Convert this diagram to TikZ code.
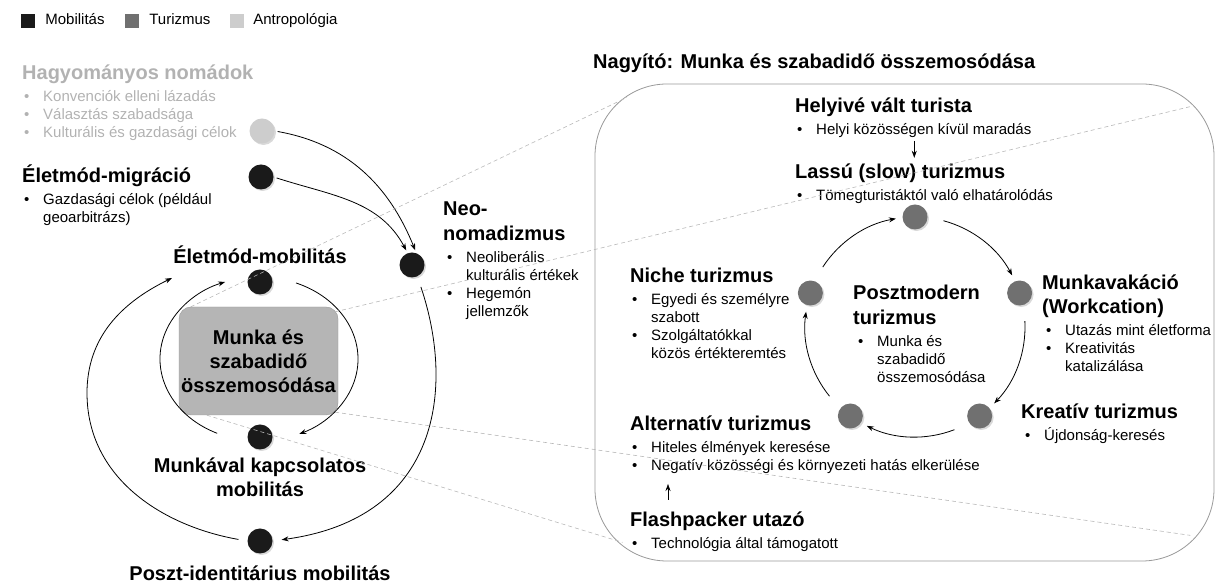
\documentclass[tikz,border=0pt]{standalone}
\usepackage{fontspec}
\setmainfont{Liberation Sans}
\usetikzlibrary{arrows.meta,positioning,shadows}
\definecolor{mobcol}{HTML}{1A1A1A}
\definecolor{turcol}{HTML}{707070}
\definecolor{antcol}{HTML}{CDCDCD}
\definecolor{anttxt}{HTML}{B2B2B2}
\definecolor{boxcol}{HTML}{B5B5B5}
\newcommand{\bul}[1]{\strut\makebox[19pt][l]{\textbullet}#1}
\newcommand{\cnt}[1]{\strut\hspace*{19pt}#1}

\begin{document}
\begin{tikzpicture}[x=1pt, y=1pt, >={Stealth[length=7pt,width=5pt]},
  ttl/.style={font=\bfseries\fontsize{20}{24}\selectfont, inner sep=0pt, anchor=base west, text height=14pt, text depth=4pt},
  lst/.style={font=\fontsize{15}{18}\selectfont, inner sep=0pt, align=left},
  lgd/.style={lst, text height=11pt, text depth=3.5pt},
  lbl/.style={font=\bfseries\fontsize{20}{24}\selectfont, inner sep=0pt, align=center},
  sq/.style={minimum size=14pt, inner sep=0pt},
  blob/.style={circle, minimum size=25pt, inner sep=0pt, drop shadow={shadow xshift=1.5pt, shadow yshift=-1.5pt, opacity=0.3}},
  mob/.style={blob, fill=mobcol},
  tur/.style={blob, fill=turcol},
  ant/.style={blob, fill=antcol},
  flow/.style={->, line width=0.8pt},
  zoomln/.style={draw=black!28, line width=0.6pt, dash pattern=on 4pt off 3pt},
]
  \useasboundingbox (0,0) rectangle (1215,588);

  % legend
  \node[sq, fill=mobcol] (lgm) at (28,567) {};
  \node[lgd, right=10pt of lgm] (lgmt) {Mobilitás};
  \node[sq, fill=turcol, right=20pt of lgmt] (lgt) {};
  \node[lgd, right=10pt of lgt] (lgtt) {Turizmus};
  \node[sq, fill=antcol, right=19pt of lgtt] (lga) {};
  \node[lgd, right=9pt of lga] (lgat) {Antropológia};

  % traditional nomads
  \node[ttl, text=anttxt] (hag) at (22,508) {Hagyományos nomádok};
  \node[lst, text=anttxt, below right=4.4pt and 2pt of hag.south west] (hagl)
    {\bul{Konvenciók elleni lázadás}\\\bul{Választás szabadsága}\\\bul{Kulturális és gazdasági célok}};
  \node[ant] (antd) at (262,457) {};

  % lifestyle migration
  \node[ttl] (mig) at (22,405) {Életmód-migráció};
  \node[lst, below right=4.4pt and 2pt of mig.south west] (migl)
    {\bul{Gazdasági célok (például}\\\cnt{geoarbitrázs)}};
  \node[mob] (migd) at (261,411) {};

  % neo-nomadism
  \node[mob] (neod) at (412,323) {};
  \node[ttl] (neo) at (443,372) {Neo-};
  \node[ttl] (neo2) at ([yshift=-25pt]neo.base west) {nomadizmus};
  \node[lst, below right=4.4pt and 4pt of neo2.south west] (neol)
    {\bul{Neoliberális}\\\cnt{kulturális értékek}\\\bul{Hegemón}\\\cnt{jellemzők}};

  \draw[flow, shorten <=3pt, shorten >=3pt] (antd.east) to[out=-10, in=112] (neod.70);
  \draw[flow, shorten <=3pt, shorten >=3pt] (migd.east) to[out=-18, in=118] (neod.110);

  % mobility circle
  \node[lbl] (emo) at (260,333) {Életmód-mobilitás};
  \node[mob] (emod) at (260,306) {};
  \node[lbl, fill=boxcol, draw=black!40, rounded corners=12pt, minimum width=159pt, minimum height=108pt] (mix) at (258.5,227)
    {Munka és\\szabadidő\\összemosódása};
  \node[mob] (mund) at (260,151) {};
  \node[lbl] (mun) at (260,111) {Munkával kapcsolatos\\mobilitás};
  \node[mob] (posd) at (260,47) {};
  \node[lbl] (pos) at (260,15) {Poszt-identitárius mobilitás};

  \coordinate (ell) at (259,229);
  \coordinate (oend) at (172,310);
  \draw[flow] ([shift={(245:99 and 82)}]ell) arc[start angle=245, end angle=110, x radius=99, y radius=82];
  \draw[flow] ([shift={(68:99 and 82)}]ell) arc[start angle=68, end angle=-66, x radius=99, y radius=82];
  \draw[flow, shorten <=9pt] (posd.west) to[out=170, in=270] (87,195) to[out=90, in=206] (oend);
  \draw[flow, shorten <=11pt, shorten >=9pt] (neod.-65) .. controls (455,200) and (440,70) .. (posd.east);

  % magnifier
  \node[ttl] (nag) at (593,519) {Nagyító: Munka és szabadidő összemosódása};
  \node[draw=black!40, line width=0.8pt, rounded corners=72pt, minimum width=619pt, minimum height=477pt, inner sep=0pt] (lens) at (904.5,265.5) {};

  \node[ttl] (hel) at (795,475) {Helyivé vált turista};
  \node[lst, below right=4.4pt and 2pt of hel.south west] (hell) {\bul{Helyi közösségen kívül maradás}};
  \node[ttl] (las) at (795,409) {Lassú (slow) turizmus};
  \node[lst, below right=4.4pt and 2pt of las.south west] (lasl) {\bul{Tömegturistáktól való elhatárolódás}};
  \draw[->, line width=0.6pt, shorten <=1pt, shorten >=7pt] (hell.south) -- (hell.south |- las.north);

  \node[ttl] (nic) at (630,305) {Niche turizmus};
  \node[lst, below right=4.4pt and 2pt of nic.south west] (nicl)
    {\bul{Egyedi és személyre}\\\cnt{szabott}\\\bul{Szolgáltatókkal}\\\cnt{közös értékteremtés}};

  \node[ttl] (pom) at (853,288) {Posztmodern};
  \node[ttl] (pom2) at ([yshift=-25pt]pom.base west) {turizmus};
  \node[lst, below right=4.4pt and 5pt of pom2.south west] (poml)
    {\bul{Munka és}\\\cnt{szabadidő}\\\cnt{összemosódása}};

  \node[ttl] (wor) at (1042,298) {Munkavakáció};
  \node[ttl] (wor2) at ([yshift=-24pt]wor.base west) {(Workcation)};
  \node[lst, below right=4.4pt and 4pt of wor2.south west] (worl)
    {\bul{Utazás mint életforma}\\\bul{Kreativitás}\\\cnt{katalizálása}};

  \node[ttl] (kre) at (1021,169) {Kreatív turizmus};
  \node[lst, below right=4.4pt and 4pt of kre.south west] (krel) {\bul{Újdonság-keresés}};

  \node[ttl] (alt) at (630,157) {Alternatív turizmus};
  \node[lst, below right=4.4pt and 2pt of alt.south west] (altl)
    {\bul{Hiteles élmények keresése}\\\bul{Negatív közösségi és környezeti hatás elkerülése}};

  \node[ttl] (fla) at (630,61) {Flashpacker utazó};
  \node[lst, below right=4.4pt and 2pt of fla.south west] (flal) {\bul{Technológia által támogatott}};
  \draw[->, line width=0.6pt, shorten <=13pt, shorten >=8pt] ([xshift=38pt]fla.north west) -- ([xshift=38pt]fla.north west |- altl.south);

  % tourism cycle
  \coordinate (cyc) at (915,261);
  \foreach \a [count=\i] in {90,18,-54,-126,162}
    \node[tur] (tu\i) at ([shift={(\a:110)}]cyc) {};
  \foreach \a [evaluate=\a as \s using \a-15, evaluate=\a as \e using \a-62] in {90,18,-54,-126,162}
    \draw[flow] ([shift={(\s:110)}]cyc) arc[start angle=\s, end angle=\e, radius=110];

  % zoom lines
  \draw[zoomln] ([xshift=12pt]mix.north west) -- ([shift={(32,-14)}]lens.north west);
  \draw[zoomln] ([shift={(-3,-5)}]mix.north east) -- ([shift={(-24,-23)}]lens.north east);
  \draw[zoomln] ([xshift=28pt]mix.south west) -- ([shift={(28,19)}]lens.south west);
  \draw[zoomln] ([shift={(-3,3)}]mix.south east) -- ([shift={(-24,26)}]lens.south east);
\end{tikzpicture}
\end{document}
